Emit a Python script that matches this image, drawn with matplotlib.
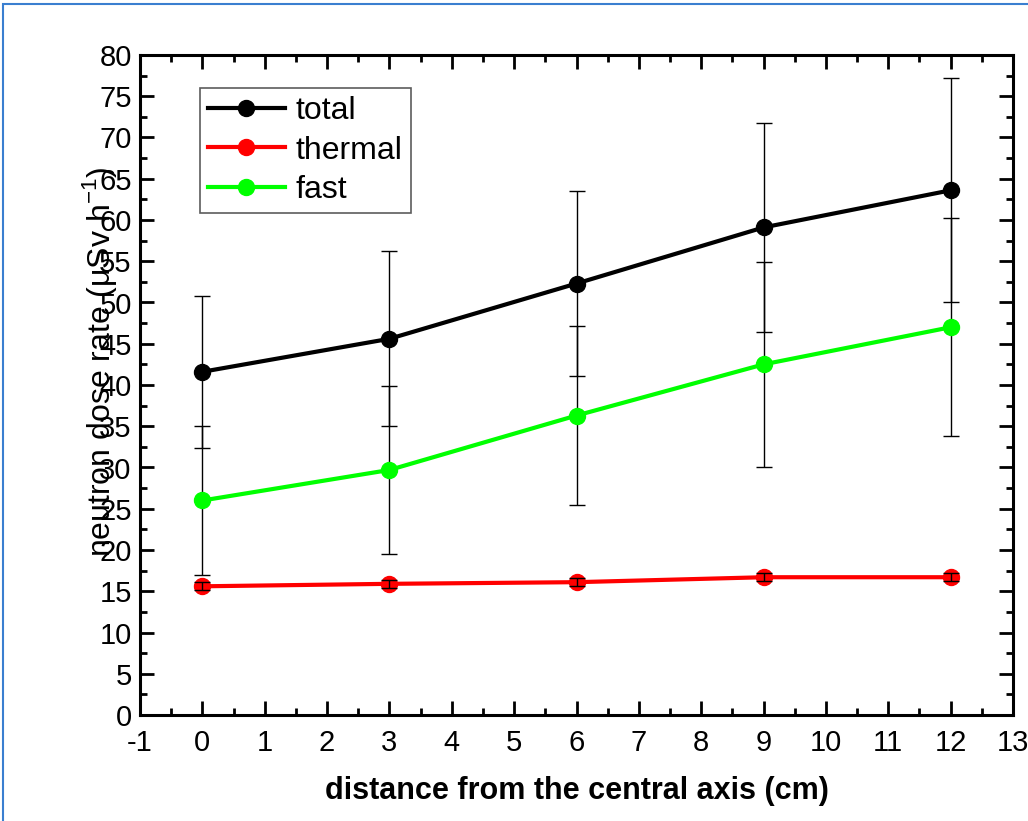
import matplotlib
matplotlib.use("Agg")
import matplotlib.pyplot as plt
from matplotlib.ticker import MultipleLocator
from matplotlib.patches import Rectangle

distance = [0, 3, 6, 9, 12]
total = [41.6, 45.6, 52.3, 59.1, 63.6]
total_err = [9.2, 10.6, 11.2, 12.7, 13.6]
thermal = [15.6, 15.9, 16.1, 16.7, 16.7]
thermal_err = [0.5, 0.5, 0.5, 0.5, 0.5]
fast = [26.0, 29.7, 36.3, 42.5, 47.0]
fast_err = [9.0, 10.2, 10.8, 12.4, 13.2]

plt.rcParams['font.family'] = ['Liberation Sans', 'DejaVu Sans']
plt.rcParams['axes.unicode_minus'] = False
plt.rcParams['mathtext.fontset'] = 'custom'
plt.rcParams['mathtext.rm'] = 'Liberation Sans'

fig = plt.figure(figsize=(10.28, 8.21), dpi=100)
ax = fig.add_axes([140/1028, 1-715/821, (1013-140)/1028, (715-55)/821])

ms = 11.5
lw = 3
ax.errorbar(distance, total, yerr=total_err, fmt='none', ecolor='black', elinewidth=1, capsize=5.5, capthick=1, zorder=2)
ax.errorbar(distance, fast, yerr=fast_err, fmt='none', ecolor='black', elinewidth=1, capsize=5.5, capthick=1, zorder=2)
ax.plot(distance, total, '-o', color='black', lw=lw, ms=ms, label='total', zorder=3)
ax.plot(distance, thermal, '-o', color='#ff0000', lw=lw, ms=ms, label='thermal', zorder=3)
ax.plot(distance, fast, '-o', color='#00ff00', lw=lw, ms=ms, label='fast', zorder=3)
ax.errorbar(distance, thermal, yerr=thermal_err, fmt='none', ecolor='black', elinewidth=1, capsize=5.5, capthick=1, zorder=4)

ax.set_xlim(-1, 13)
ax.set_ylim(0, 80)
ax.xaxis.set_major_locator(MultipleLocator(1))
ax.xaxis.set_minor_locator(MultipleLocator(0.5))
ax.yaxis.set_major_locator(MultipleLocator(5))
ax.yaxis.set_minor_locator(MultipleLocator(2.5))
ax.tick_params(which='both', direction='in', top=True, right=True, labelsize=21, width=2)
ax.tick_params(which='major', length=10)
ax.tick_params(which='minor', length=5)
ax.tick_params(axis='x', pad=10)
ax.tick_params(axis='y', pad=6)
for s in ax.spines.values():
    s.set_linewidth(2.2)

ax.set_xlabel('distance from the central axis (cm)', fontsize=22, fontweight='bold', labelpad=14)
fig.text(100/1028, 1-362/821, r'neutron dose rate ($\mathregular{\mu}$Sv h$^{\mathregular{-1}}$)', rotation=90,
         fontsize=23, ha='center', va='center')

leg = ax.legend(loc='upper left', bbox_to_anchor=(60/873, 1-33/660), fontsize=23,
                frameon=True, fancybox=False, edgecolor='#333333', handlelength=2.4,
                borderpad=0.25, labelspacing=0.3, handletextpad=0.35, borderaxespad=0)
leg.get_frame().set_linewidth(1.2)

fig.patches.append(Rectangle((3/1028, -0.05), 1.2, 1-4/821+0.05, transform=fig.transFigure,
                             fill=False, edgecolor='#3a7fd0', linewidth=1.5))

fig.savefig('out.png', dpi=100)
